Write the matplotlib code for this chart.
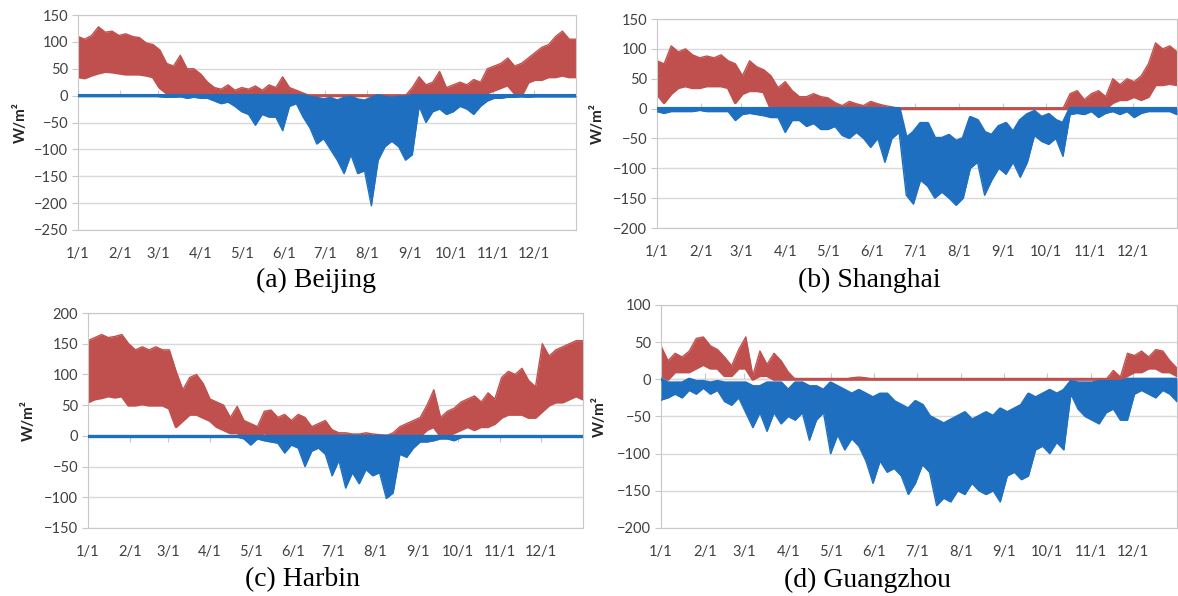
import numpy as np
import matplotlib
matplotlib.use("Agg")
import matplotlib.pyplot as plt

# 5-day envelope of the hourly loads (W/m2), day 0 = 1/1
days = np.arange(0, 366, 5)
month_days = [0, 31, 59, 90, 120, 151, 181, 212, 243, 273, 304, 334]
month_labels = ['1/1', '2/1', '3/1', '4/1', '5/1', '6/1', '7/1', '8/1', '9/1', '10/1', '11/1', '12/1']

bj_heat_hi = [110, 105, 112, 128, 118, 120, 112, 115, 110, 108,
              98, 95, 85, 60, 55, 75, 50, 50, 40, 25,
              15, 12, 20, 10, 15, 12, 18, 10, 20, 15,
              35, 15, 10, 5, 0, 0, 0, 0, 0, 0,
              0, 0, 0, 0, 0, 0, 0, 0, 0, 15,
              35, 20, 25, 45, 15, 20, 25, 20, 30, 25,
              50, 55, 60, 70, 55, 60, 70, 80, 90, 95,
              110, 120, 105, 105]
bj_heat_lo = [35, 33, 38, 42, 45, 44, 42, 40, 40, 40,
              38, 35, 15, 5, 5, 5, 0, 5, 0, 0,
              0, 0, 0, 0, 0, 0, 0, 0, 0, 0,
              0, 0, 0, 0, 0, 0, 0, 0, 0, 0,
              0, 0, 0, 0, 0, 0, 0, 0, 0, 0,
              0, 0, 0, 3, 0, 5, 3, 0, 5, 3,
              5, 10, 15, 20, 5, 0, 25, 30, 30, 35,
              35, 38, 35, 35]
bj_cool_hi = [0, 0, 0, 0, 0, 0, 0, 0, 0, 0,
              0, 0, 0, 0, 0, 0, 0, 0, 0, 0,
              0, 0, 0, 0, 0, 0, 0, 0, 0, 0,
              0, 0, 0, 0, -3, -5, -8, -5, -10, -5,
              -3, -8, -10, -5, 0, -3, -5, -3, -3, 0,
              0, 0, 0, 0, 0, 0, 0, 0, 0, 0,
              0, 0, 0, 0, 0, 0, 0, 0, 0, 0,
              0, 0, 0, 0]
bj_cool_lo = [0, 0, 0, 0, 0, 0, 0, 0, 0, 0,
              0, 0, -2, -3, -3, -2, -5, -3, -5, -5,
              -10, -15, -12, -20, -30, -35, -55, -35, -40, -40,
              -65, -20, -15, -40, -60, -90, -80, -100, -120, -145,
              -110, -145, -140, -205, -120, -95, -85, -95, -120, -110,
              -20, -50, -30, -25, -35, -30, -20, -25, -35, -20,
              -10, -5, -5, -3, -3, -2, -3, -2, -2, -2,
              -2, -2, -2, -2]

sh_heat_hi = [80, 75, 105, 95, 100, 90, 85, 88, 85, 90,
              80, 75, 55, 80, 70, 65, 55, 35, 45, 30,
              20, 20, 25, 20, 18, 10, 5, 12, 8, 5,
              12, 8, 5, 3, 0, 0, 0, 0, 0, 0,
              0, 0, 0, 0, 0, 0, 0, 0, 0, 0,
              0, 0, 0, 0, 0, 0, 0, 0, 25, 30,
              15, 25, 30, 20, 50, 40, 50, 45, 55, 75,
              110, 100, 105, 95]
sh_heat_lo = [25, 10, 25, 35, 38, 35, 35, 38, 38, 38,
              35, 10, 25, 30, 30, 28, 0, 0, 0, 0,
              0, 0, 0, 0, 0, 0, 0, 0, 0, 0,
              0, 0, 0, 0, 0, 0, 0, 0, 0, 0,
              0, 0, 0, 0, 0, 0, 0, 0, 0, 0,
              0, 0, 0, 0, 0, 0, 0, 0, 0, 0,
              0, 0, 3, 0, 10, 15, 15, 20, 15, 20,
              40, 40, 42, 40]
sh_cool_hi = [0, 0, 0, 0, 0, 0, 0, 0, 0, 0,
              0, 0, 0, 0, 0, 0, 0, 0, 0, 0,
              0, 0, 0, 0, 0, 0, 0, 0, 0, 0,
              0, 0, 0, 0, 0, -50, -40, -25, -25, -50,
              -50, -45, -55, -50, -15, -20, -40, -45, -30, -25,
              -40, -20, -10, -5, -15, -10, -20, -25, 0, 0,
              0, 0, 0, 0, 0, 0, 0, 0, 0, 0,
              0, 0, 0, 0]
sh_cool_lo = [-5, -8, -5, -5, -5, -5, -3, -5, -5, -5,
              -5, -20, -10, -8, -10, -12, -15, -15, -40, -20,
              -20, -30, -25, -35, -35, -30, -45, -50, -40, -50,
              -65, -50, -90, -50, -40, -145, -160, -120, -130, -150,
              -140, -150, -162, -150, -100, -90, -145, -120, -100, -110,
              -90, -115, -90, -45, -55, -60, -50, -80, -10, -8,
              -10, -5, -15, -8, -5, -10, -5, -15, -8, -5,
              -5, -5, -5, -10]

hb_heat_hi = [155, 160, 165, 160, 162, 165, 150, 140, 145, 140,
              145, 140, 140, 105, 75, 95, 100, 85, 60, 55,
              50, 30, 48, 25, 20, 15, 40, 42, 30, 35,
              25, 35, 30, 15, 20, 25, 10, 5, 5, 3,
              3, 5, 3, 2, 0, 5, 15, 20, 25, 30,
              50, 75, 30, 40, 45, 55, 60, 65, 55, 70,
              60, 95, 105, 100, 110, 90, 80, 150, 130, 140,
              145, 150, 155, 155]
hb_heat_lo = [55, 60, 62, 65, 63, 65, 50, 50, 52, 50,
              50, 50, 45, 15, 25, 35, 35, 30, 25, 15,
              10, 5, 5, 0, 0, 0, 5, 0, 0, 0,
              0, 0, 0, 0, 0, 0, 0, 0, 0, 0,
              0, 0, 0, 0, 0, 0, 0, 0, 0, 0,
              10, 15, 0, 0, 5, 10, 15, 10, 15, 15,
              20, 30, 35, 35, 35, 30, 30, 40, 50, 55,
              55, 60, 65, 60]
hb_cool_hi = [0] * 74
hb_cool_lo = [0, 0, 0, 0, 0, 0, 0, 0, 0, 0,
              0, 0, 0, 0, 0, 0, 0, 0, 0, 0,
              0, 0, -2, -5, -15, -5, -8, -10, -12, -28,
              -15, -20, -50, -25, -20, -30, -65, -40, -85, -60,
              -78, -55, -65, -60, -102, -93, -30, -35, -20, -10,
              -10, -8, -5, -5, -8, -3, 0, 0, 0, 0,
              0, 0, 0, 0, 0, 0, 0, 0, 0, 0,
              0, 0, 0, 0]

gz_heat_hi = [45, 25, 35, 30, 38, 55, 57, 45, 40, 30,
              18, 40, 57, 5, 38, 20, 35, 25, 10, 0,
              0, 0, 0, 0, 0, 0, 0, 2, 3, 2,
              0, 0, 0, 0, 0, 0, 0, 0, 0, 0,
              0, 0, 0, 0, 0, 0, 0, 0, 0, 0,
              0, 0, 0, 0, 0, 0, 0, 0, 0, 0,
              0, 0, 0, 0, 12, 3, 35, 32, 38, 30,
              40, 38, 25, 15]
gz_heat_lo = [5, 0, 10, 10, 10, 15, 20, 15, 15, 5,
              5, 15, 15, 0, 5, 5, 0, 0, 0, 0,
              0, 0, 0, 0, 0, 0, 0, 0, 0, 0,
              0, 0, 0, 0, 0, 0, 0, 0, 0, 0,
              0, 0, 0, 0, 0, 0, 0, 0, 0, 0,
              0, 0, 0, 0, 0, 0, 0, 0, 0, 0,
              0, 0, 0, 0, 0, 0, 5, 10, 10, 15,
              15, 10, 10, 5]
gz_cool_hi = [0, -5, -5, -5, 0, -3, -3, -5, -3, -5,
              -5, -5, -5, -10, -10, -5, -5, -5, -15, -5,
              -5, -10, -10, -15, -5, -10, -15, -20, -15, -20,
              -25, -20, -20, -30, -35, -40, -30, -35, -50, -55,
              -60, -55, -50, -45, -55, -50, -45, -50, -40, -45,
              -40, -35, -20, -25, -20, -15, -20, -15, -3, -5,
              -5, -5, -3, -3, -3, -3, 0, 0, 0, 0,
              0, 0, 0, 0]
gz_cool_lo = [-28, -25, -20, -25, -15, -20, -12, -20, -15, -30,
              -35, -25, -45, -65, -45, -70, -45, -60, -50, -55,
              -45, -82, -55, -45, -100, -75, -95, -80, -90, -110,
              -140, -110, -125, -120, -130, -155, -140, -115, -125, -170,
              -160, -165, -150, -155, -140, -150, -155, -150, -165, -130,
              -125, -135, -130, -95, -90, -100, -85, -95, -20, -40,
              -50, -55, -60, -45, -40, -55, -55, -20, -15, -20,
              -25, -15, -20, -30]

red = '#C0504D'
blue = '#1F6FC0'
grid = '#d9d9d9'
tick_col = '#404040'


def panel(rect, heat_hi, heat_lo, cool_hi, cool_lo, ylim, title, title_xy, ylab_x):
    ax = fig.add_axes(rect)
    ax.fill_between(days, heat_lo, heat_hi, color=red, lw=0, zorder=2)
    ax.plot(days, heat_hi, color=red, lw=1, zorder=2)
    ax.plot(days, heat_lo, color=red, lw=2.2, zorder=2)
    ax.fill_between(days, cool_lo, cool_hi, color=blue, lw=0, zorder=3)
    ax.plot(days, cool_lo, color=blue, lw=1, zorder=3)
    ax.plot(days, cool_hi, color=blue, lw=2.4, zorder=3)

    ax.set_xlim(0, 365)
    ax.set_ylim(*ylim)
    ax.set_yticks(np.arange(ylim[0], ylim[1] + 1, 50))
    ax.yaxis.grid(True, color=grid, lw=1)
    ax.set_axisbelow(True)
    for s in ax.spines.values():
        s.set_color('#c8c8c8')
    ax.set_xticks(month_days)
    ax.set_xticklabels(month_labels)
    ax.tick_params(axis='x', length=0, pad=12, labelsize=10.5, labelcolor=tick_col)
    ax.tick_params(axis='y', length=4, color='#c8c8c8', labelsize=10.5, labelcolor=tick_col, pad=3)
    for lab in ax.get_xticklabels() + ax.get_yticklabels():
        lab.set_fontfamily('Lato')

    # tick marks sit on the zero line, as in Excel
    zero = (0 - ylim[0]) / (ylim[1] - ylim[0])
    sec = ax.secondary_xaxis(zero)
    sec.set_xticks(month_days)
    sec.set_xticklabels([])
    sec.tick_params(direction='out', length=4, color='#c8c8c8')
    sec.spines['bottom'].set_visible(False)

    ax.set_ylabel('W/m²', fontsize=11, fontweight='bold', family='Lato', color='#262626')
    ax.yaxis.set_label_coords(ylab_x, 0.5)
    fig.text(title_xy[0], title_xy[1], title, ha='center', va='center',
             fontsize=20, family='Liberation Serif')
    return ax


fig = plt.figure(figsize=(11.78, 5.96), dpi=100)

panel([0.0662, 0.6141, 0.4228, 0.3607], bj_heat_hi, bj_heat_lo, bj_cool_hi, bj_cool_lo,
      (-250, 150), '(a) Beijing', (0.268, 0.530), -0.100)
panel([0.5577, 0.6174, 0.4414, 0.3507], sh_heat_hi, sh_heat_lo, sh_cool_hi, sh_cool_lo,
      (-200, 150), '(b) Shanghai', (0.7377, 0.530), -0.100)
panel([0.0747, 0.1141, 0.4202, 0.3607], hb_heat_hi, hb_heat_lo, hb_cool_hi, hb_cool_lo,
      (-150, 200), '(c) Harbin', (0.2572, 0.0268), -0.105)
panel([0.5611, 0.1141, 0.4380, 0.3742], gz_heat_hi, gz_heat_lo, gz_cool_hi, gz_cool_lo,
      (-200, 100), '(d) Guangzhou', (0.7368, 0.0268), -0.105)

fig.savefig('out.png', dpi=100)
